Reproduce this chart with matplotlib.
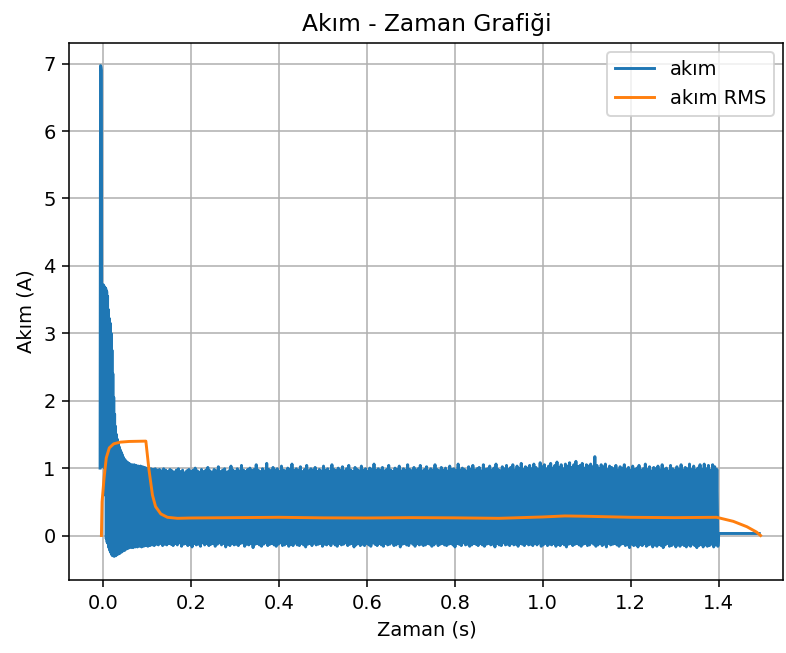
import numpy as np
import matplotlib
matplotlib.use("Agg")
from matplotlib import pyplot as plt

plt.rcParams['path.simplify'] = False

# baslangic gecici bolgesi (1 ms adim)
t_start = -0.006
dt_start = 0.001
akim_start = [1.00, 6.97, 6.95, 6.90, 1.02, 3.70, 1.10, 3.72, 1.05, 3.70,
              1.00, 3.68, 0.60, 3.66, -0.05, 3.62, -0.10, 3.55, -0.12, 3.35,
              -0.18, 3.22, -0.22, 3.15, -0.25, 3.00, -0.28, 2.75, -0.30, 2.40,
              -0.29, 2.05, -0.31, 1.80, -0.27, 1.62, -0.30, 1.50, -0.26, 1.43,
              -0.28, 1.37, -0.25, 1.32, -0.27, 1.28, -0.23, 1.25, -0.25, 1.22,
              -0.21, 1.19, -0.23, 1.16, -0.20, 1.13, -0.22, 1.12, -0.19, 1.10,
              -0.20, 1.09, -0.18, 1.08, -0.19, 1.07, -0.17]

# kararli bolge: tepe ve dip degerleri
t_band = (0.062, 1.398)
akim_tepe = [1.06, 1.05, 1.05, 1.04, 1.03, 1.03, 1.02, 1.01, 1.00, 1.00,
             0.99, 0.98, 0.99, 0.97, 0.98, 0.96, 0.99, 0.97, 0.95, 0.98,
             0.96, 0.94, 0.97, 0.99, 0.95, 0.97, 0.93, 0.96, 0.98, 0.95,
             0.97, 1.00, 0.96, 0.94, 0.98, 0.95, 0.97, 1.01, 0.96, 0.94,
             0.98, 0.96, 1.02, 0.95, 0.97, 0.99, 0.94, 0.96, 1.03, 0.97,
             0.95, 0.99, 0.96, 1.04, 0.97, 0.95, 0.98, 1.00, 0.96, 0.98,
             1.05, 0.97, 0.95, 0.99, 0.96, 1.07, 0.98, 0.96, 1.01, 0.97,
             0.99, 0.95, 1.03, 0.97, 0.96, 1.00, 0.98, 1.06, 0.96, 0.99,
             0.97, 1.02, 0.95, 0.98, 1.04, 0.96, 0.99, 0.97, 1.01, 0.95,
             0.98, 0.96, 1.03, 0.97, 0.99, 0.95, 1.05, 0.98, 0.96, 1.00,
             0.97, 1.02, 0.96, 0.99, 1.04, 0.97, 0.95, 1.01, 0.98, 0.96,
             1.03, 0.97, 0.99, 0.95, 1.00, 0.98, 1.06, 0.96, 0.99, 0.97,
             1.01, 0.96, 0.98, 1.04, 0.97, 0.95, 1.00, 0.98, 1.03, 0.96,
             0.99, 0.97, 1.05, 0.98, 0.96, 1.01, 0.97, 0.99, 1.04, 0.96,
             0.98, 1.02, 0.96, 0.99, 0.97, 1.05, 0.98, 0.96, 1.01, 0.97,
             1.00, 0.96, 1.03, 0.98, 0.99, 0.96, 1.06, 0.97, 1.00, 0.98,
             0.96, 1.02, 0.98, 1.04, 0.97, 0.99, 1.01, 0.96, 1.05, 0.98,
             0.99, 1.03, 0.97, 1.00, 1.06, 0.98, 0.96, 1.02, 0.99, 1.04,
             0.98, 1.01, 1.05, 0.97, 1.03, 0.99, 1.07, 0.98, 1.02, 1.00,
             1.04, 0.99, 1.06, 1.01, 0.98, 1.08, 1.02, 1.05, 0.99, 1.03,
             1.07, 1.00, 1.04, 1.09, 1.01, 1.05, 0.99, 1.06, 1.03, 1.08,
             1.01, 1.05, 1.10, 1.02, 1.04, 1.07, 1.00, 1.05, 1.03, 1.06,
             1.02, 1.17, 1.04, 0.99, 1.05, 1.02, 1.06, 0.98, 1.03, 1.01,
             0.99, 1.04, 0.97, 1.02, 1.00, 1.05, 0.98, 1.01, 0.97, 1.03,
             0.98, 1.00, 1.04, 0.97, 0.99, 1.06, 0.98, 1.02, 0.96, 1.01,
             0.99, 1.03, 0.97, 1.05, 0.98, 1.00, 0.96, 1.04, 0.99, 0.97,
             1.02, 0.98, 1.05, 0.97, 1.01, 0.99, 1.06, 0.98, 1.03, 0.97,
             1.00, 1.05, 0.98, 1.06, 0.99, 1.04, 0.97, 1.05, 1.02, 0.98]
akim_dip = [-0.18, -0.18, -0.17, -0.17, -0.16, -0.17, -0.16, -0.15, -0.16, -0.15,
            -0.14, -0.15, -0.13, -0.14, -0.12, -0.15, -0.13, -0.14, -0.12, -0.13,
            -0.15, -0.12, -0.14, -0.11, -0.16, -0.13, -0.12, -0.15, -0.13, -0.17,
            -0.12, -0.14, -0.13, -0.16, -0.11, -0.14, -0.12, -0.15, -0.13, -0.12,
            -0.16, -0.13, -0.11, -0.14, -0.12, -0.17, -0.13, -0.15, -0.12, -0.14,
            -0.13, -0.15, -0.12, -0.11, -0.16, -0.13, -0.14, -0.12, -0.18, -0.13,
            -0.12, -0.14, -0.16, -0.13, -0.11, -0.15, -0.13, -0.12, -0.14, -0.16,
            -0.13, -0.11, -0.15, -0.14, -0.12, -0.16, -0.13, -0.15, -0.11, -0.14,
            -0.15, -0.12, -0.14, -0.17, -0.13, -0.12, -0.15, -0.11, -0.14, -0.13,
            -0.12, -0.16, -0.13, -0.14, -0.12, -0.15, -0.11, -0.14, -0.16, -0.12,
            -0.14, -0.13, -0.11, -0.15, -0.13, -0.12, -0.17, -0.14, -0.12, -0.15,
            -0.13, -0.15, -0.12, -0.14, -0.16, -0.11, -0.13, -0.15, -0.12, -0.14,
            -0.16, -0.12, -0.14, -0.13, -0.11, -0.15, -0.14, -0.12, -0.17, -0.13,
            -0.12, -0.14, -0.15, -0.11, -0.13, -0.16, -0.12, -0.14, -0.13, -0.15,
            -0.14, -0.12, -0.13, -0.16, -0.14, -0.11, -0.15, -0.13, -0.12, -0.14,
            -0.15, -0.13, -0.12, -0.14, -0.17, -0.12, -0.13, -0.15, -0.11, -0.14,
            -0.13, -0.16, -0.14, -0.12, -0.13, -0.15, -0.12, -0.14, -0.16, -0.13,
            -0.12, -0.14, -0.13, -0.17, -0.12, -0.14, -0.15, -0.11, -0.14, -0.13,
            -0.15, -0.12, -0.14, -0.13, -0.16, -0.12, -0.13, -0.15, -0.12, -0.14,
            -0.13, -0.15, -0.12, -0.14, -0.11, -0.16, -0.14, -0.12, -0.15, -0.13,
            -0.14, -0.12, -0.16, -0.13, -0.15, -0.12, -0.14, -0.17, -0.13, -0.12,
            -0.15, -0.13, -0.12, -0.14, -0.16, -0.13, -0.12, -0.15, -0.14, -0.11,
            -0.13, -0.16, -0.14, -0.12, -0.15, -0.13, -0.17, -0.12, -0.14, -0.13,
            -0.12, -0.14, -0.16, -0.13, -0.12, -0.15, -0.14, -0.18, -0.13, -0.15,
            -0.14, -0.17, -0.13, -0.15, -0.12, -0.16, -0.14, -0.13, -0.17, -0.14,
            -0.16, -0.13, -0.15, -0.18, -0.14, -0.12, -0.16, -0.15, -0.13, -0.17,
            -0.14, -0.16, -0.13, -0.15, -0.17, -0.14, -0.16, -0.13, -0.15, -0.18,
            -0.15, -0.13, -0.17, -0.14, -0.16, -0.15, -0.13, -0.17, -0.14, -0.16]

# son bolge (sinyal kesildikten sonra)
t_son = [1.400, 1.492]
akim_son = [0.03, 0.03]

# RMS egrisi
t_rms = [-0.003, -0.0015, 0.003, 0.008, 0.015, 0.025, 0.040, 0.060, 0.098,
         0.105, 0.113, 0.120, 0.132, 0.147, 0.170, 0.20, 0.30, 0.40, 0.50,
         0.60, 0.70, 0.80, 0.90, 1.00, 1.05, 1.10, 1.20, 1.30, 1.395, 1.433,
         1.464, 1.486, 1.495]
akim_rms = [0.0, 0.50, 0.85, 1.15, 1.30, 1.36, 1.385, 1.395, 1.40,
            0.98, 0.60, 0.43, 0.32, 0.27, 0.255, 0.26, 0.265, 0.27, 0.262,
            0.26, 0.265, 0.262, 0.255, 0.275, 0.29, 0.285, 0.27, 0.265, 0.27, 0.21,
            0.13, 0.05, 0.0]

t1 = t_start + np.arange(len(akim_start)) * dt_start
band = np.empty(2 * len(akim_tepe))
band[0::2] = akim_tepe
band[1::2] = akim_dip
t2 = np.linspace(t_band[0], t_band[1], len(band))

t_akim = np.concatenate([t1, t2, t_son])
akim = np.concatenate([akim_start, band, akim_son])

fig, ax = plt.subplots(figsize=(787 / 140, 653 / 140), dpi=140)
fig.subplots_adjust(left=0.0881, right=0.9955, bottom=0.1118, top=0.9346)

ax.plot(t_akim, akim, label='akım')
ax.plot(t_rms, akim_rms, label='akım RMS')
ax.set_xlim(-0.0759, 1.547)
ax.set_ylim(-0.66, 7.31)
ax.set_xlabel('Zaman (s)')
ax.set_ylabel('Akım (A)')
ax.set_title('Akım - Zaman Grafiği')
ax.grid(True)
ax.legend(loc='upper right')

fig.savefig('out.png', dpi=140)
